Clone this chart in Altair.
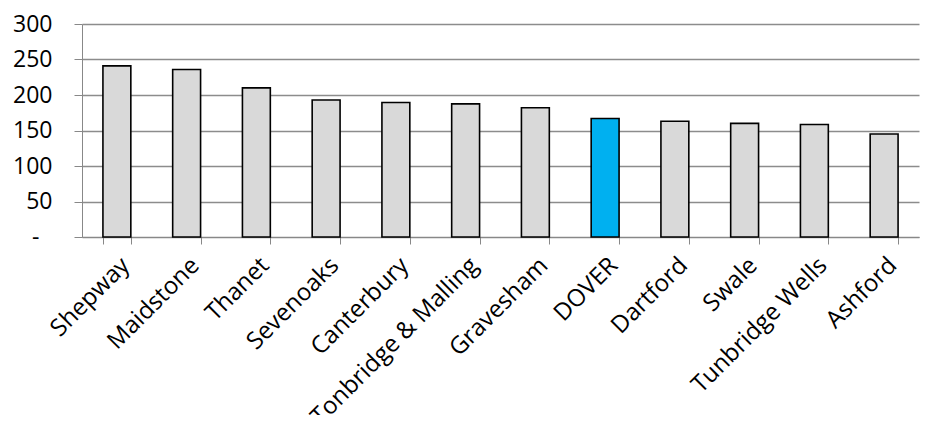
import altair as alt
import pandas as pd

districts = ["Shepway", "Maidstone", "Thanet", "Sevenoaks", "Canterbury",
             "Tonbridge & Malling", "Gravesham", "DOVER", "Dartford", "Swale",
             "Tunbridge Wells", "Ashford"]
values = [241, 236, 210, 193, 189.5, 187.5, 182, 167, 163, 160, 158.5, 145]
highlight = ["no", "no", "no", "no", "no", "no", "no", "yes", "no", "no", "no", "no"]

df = pd.DataFrame({"district": districts, "value": values, "hl": highlight})

FONT = "Open Sans"

chart = alt.Chart(df).mark_bar(stroke="black", strokeWidth=1.6).encode(
    x=alt.X("district:N", sort=districts, title=None,
            scale=alt.Scale(paddingInner=0.6, paddingOuter=0.3),
            axis=alt.Axis(labelAngle=-45, labelFontSize=24, labelFont=FONT,
                          labelColor="black", tickBand="extent", tickColor="#888888",
                          tickSize=7, domainColor="#888888", grid=False,
                          labelPadding=9, labelOverlap=False, labelLimit=400)),
    y=alt.Y("value:Q", title=None,
            scale=alt.Scale(domain=[0, 300], nice=False),
            axis=alt.Axis(values=[0, 50, 100, 150, 200, 250, 300],
                          labelExpr="datum.value == 0 ? '-' : datum.label",
                          labelFontSize=23, labelFont=FONT, labelColor="black",
                          tickColor="#888888", tickSize=8,
                          labelPadding={"condition": {"test": "datum.value == 0", "value": 35},
                                        "value": 22},
                          gridColor="#8c8c8c", gridWidth=1.3, domainColor="#888888")),
    fill=alt.Fill("hl:N", scale=alt.Scale(domain=["no", "yes"], range=["#D9D9D9", "#00B0F0"]),
                  legend=None),
).properties(
    width=837, height=213,
    autosize=alt.AutoSizeParams(type="none"),
    padding={"left": 74, "top": 16, "right": 1, "bottom": 178},
).configure_view(stroke=None)

chart.save("out.html", embed_options={"renderer": "svg", "actions": False})
